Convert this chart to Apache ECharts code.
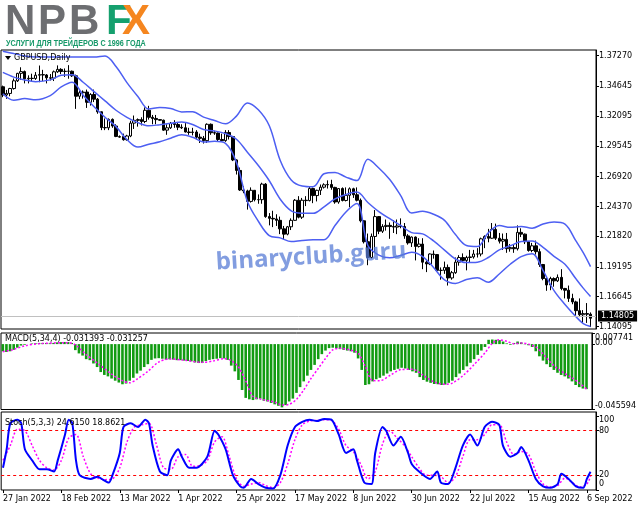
<!DOCTYPE html>
<html><head><meta charset="utf-8">
<script src="https://cdn.jsdelivr.net/npm/echarts@6/dist/echarts.min.js"></script>
<style>html,body{margin:0;padding:0;background:#fff}#c{width:639px;height:508px}</style>
</head><body><div id="c"></div>
<script>
const dates = ["27 Jan 2022","28 Jan 2022","31 Jan 2022",
"1 Feb 2022","2 Feb 2022","3 Feb 2022","4 Feb 2022","7 Feb 2022","8 Feb 2022","9 Feb 2022","10 Feb 2022","11 Feb 2022","14 Feb 2022","15 Feb 2022","16 Feb 2022","17 Feb 2022","18 Feb 2022","21 Feb 2022","22 Feb 2022","23 Feb 2022","24 Feb 2022","25 Feb 2022","28 Feb 2022",
"1 Mar 2022","2 Mar 2022","3 Mar 2022","4 Mar 2022","7 Mar 2022","8 Mar 2022","9 Mar 2022","10 Mar 2022","11 Mar 2022","13 Mar 2022","14 Mar 2022","15 Mar 2022","16 Mar 2022","17 Mar 2022","18 Mar 2022","21 Mar 2022","22 Mar 2022","23 Mar 2022","24 Mar 2022","25 Mar 2022","27 Mar 2022","28 Mar 2022","29 Mar 2022","30 Mar 2022","31 Mar 2022",
"1 Apr 2022","4 Apr 2022","5 Apr 2022","6 Apr 2022","7 Apr 2022","8 Apr 2022","11 Apr 2022","12 Apr 2022","13 Apr 2022","14 Apr 2022","15 Apr 2022","18 Apr 2022","19 Apr 2022","20 Apr 2022","21 Apr 2022","22 Apr 2022","25 Apr 2022","26 Apr 2022","27 Apr 2022","28 Apr 2022","29 Apr 2022",
"2 May 2022","3 May 2022","4 May 2022","5 May 2022","6 May 2022","9 May 2022","10 May 2022","11 May 2022","12 May 2022","13 May 2022","16 May 2022","17 May 2022","18 May 2022","19 May 2022","20 May 2022","23 May 2022","24 May 2022","25 May 2022","26 May 2022","27 May 2022","30 May 2022","31 May 2022",
"1 Jun 2022","2 Jun 2022","3 Jun 2022","6 Jun 2022","7 Jun 2022","8 Jun 2022","9 Jun 2022","10 Jun 2022","13 Jun 2022","14 Jun 2022","15 Jun 2022","16 Jun 2022","17 Jun 2022","20 Jun 2022","21 Jun 2022","22 Jun 2022","23 Jun 2022","24 Jun 2022","27 Jun 2022","28 Jun 2022","29 Jun 2022","30 Jun 2022",
"1 Jul 2022","4 Jul 2022","5 Jul 2022","6 Jul 2022","7 Jul 2022","8 Jul 2022","11 Jul 2022","12 Jul 2022","13 Jul 2022","14 Jul 2022","15 Jul 2022","18 Jul 2022","19 Jul 2022","20 Jul 2022","21 Jul 2022","22 Jul 2022","25 Jul 2022","26 Jul 2022","27 Jul 2022","28 Jul 2022","29 Jul 2022",
"1 Aug 2022","2 Aug 2022","3 Aug 2022","4 Aug 2022","5 Aug 2022","8 Aug 2022","9 Aug 2022","10 Aug 2022","11 Aug 2022","12 Aug 2022","15 Aug 2022","16 Aug 2022","17 Aug 2022","18 Aug 2022","19 Aug 2022","22 Aug 2022","23 Aug 2022","24 Aug 2022","25 Aug 2022","26 Aug 2022","29 Aug 2022","30 Aug 2022","31 Aug 2022",
"1 Sep 2022","2 Sep 2022","5 Sep 2022","6 Sep 2022","7 Sep 2022"];

const opens = [1.3461,1.3391,1.3404,1.3446,1.3512,1.3576,1.3591,1.3529,1.3534,1.3532,
1.3560,1.3565,1.3562,1.3538,1.3535,1.3589,1.3610,1.3592,1.3594,1.3594,
1.3555,1.3380,1.3410,1.3416,1.3328,1.3395,1.3355,1.3247,1.3112,1.3110,
1.3182,1.3125,1.3030,1.3035,1.3008,1.3040,1.3150,1.3174,1.3180,1.3164,
1.3260,1.3200,1.3190,1.3180,1.3175,1.3090,1.3110,1.3148,1.3138,1.3115,
1.3110,1.3074,1.3070,1.3074,1.3030,1.3020,1.3000,1.3140,1.3068,1.3065,
1.3010,1.3000,1.3070,1.3035,1.2835,1.2745,1.2578,1.2570,1.2480,1.2575,
1.2495,1.2495,1.2628,1.2350,1.2335,1.2330,1.2318,1.2245,1.2200,1.2263,
1.2318,1.2490,1.2345,1.2490,1.2487,1.2590,1.2530,1.2575,1.2602,1.2622,
1.2625,1.2600,1.2475,1.2590,1.2488,1.2532,1.2588,1.2537,1.2490,1.2314,
1.2135,1.2000,1.2180,1.2350,1.2225,1.2265,1.2275,1.2265,1.2260,1.2270,
1.2265,1.2185,1.2125,1.2175,1.2095,1.2115,1.1960,1.1945,1.2030,1.2025,
1.1890,1.1890,1.1915,1.1825,1.1870,1.1960,1.2000,1.1975,1.2000,1.2005,
1.2030,1.2030,1.2160,1.2180,1.2165,1.2240,1.2165,1.2140,1.2155,1.2075,
1.2085,1.2075,1.2215,1.2200,1.2135,1.2060,1.2100,1.2050,1.1940,1.1820,
1.1765,1.1820,1.1800,1.1830,1.1735,1.1720,1.1650,1.1620,1.1545,1.1510,
1.1520,1.1515];
const highs = [1.3471,1.3434,1.3452,1.3532,1.3580,1.3628,1.3600,1.3559,1.3573,1.3587,
1.3643,1.3606,1.3570,1.3570,1.3600,1.3644,1.3620,1.3618,1.3646,1.3600,
1.3565,1.3430,1.3430,1.3437,1.3406,1.3437,1.3365,1.3250,1.3190,1.3190,
1.3190,1.3140,1.3045,1.3060,1.3050,1.3170,1.3215,1.3190,1.3200,1.3285,
1.3298,1.3220,1.3220,1.3185,1.3180,1.3140,1.3160,1.3175,1.3160,1.3140,
1.3150,1.3110,1.3110,1.3090,1.3060,1.3040,1.3148,1.3147,1.3085,1.3070,
1.3060,1.3090,1.3090,1.3040,1.2840,1.2770,1.2610,1.2580,1.2600,1.2577,
1.2540,1.2640,1.2637,1.2380,1.2400,1.2370,1.2350,1.2270,1.2270,1.2335,
1.2500,1.2525,1.2510,1.2525,1.2610,1.2598,1.2580,1.2625,1.2635,1.2660,
1.2665,1.2605,1.2590,1.2600,1.2600,1.2600,1.2597,1.2600,1.2505,1.2320,
1.2205,1.2205,1.2406,1.2355,1.2285,1.2325,1.2300,1.2320,1.2325,1.2335,
1.2295,1.2200,1.2180,1.2180,1.2165,1.2165,1.1975,1.2035,1.2060,1.2030,
1.1915,1.1965,1.1940,1.1885,1.2000,1.2020,1.2035,1.2015,1.2065,1.2065,
1.2080,1.2170,1.2190,1.2245,1.2295,1.2290,1.2210,1.2205,1.2210,1.2115,
1.2110,1.2275,1.2250,1.2205,1.2140,1.2125,1.2145,1.2075,1.1945,1.1830,
1.1835,1.1830,1.1855,1.1900,1.1740,1.1760,1.1690,1.1630,1.1650,1.1550,
1.1610,1.1530];
const lows = [1.3372,1.3358,1.3380,1.3437,1.3502,1.3520,1.3490,1.3490,1.3510,1.3520,
1.3500,1.3510,1.3490,1.3515,1.3510,1.3580,1.3570,1.3545,1.3530,1.3545,
1.3272,1.3355,1.3360,1.3280,1.3300,1.3330,1.3230,1.3090,1.3090,1.3090,
1.3110,1.3030,1.3025,1.3000,1.3000,1.3030,1.3100,1.3120,1.3130,1.3150,
1.3180,1.3140,1.3140,1.3170,1.3085,1.3050,1.3100,1.3110,1.3090,1.3100,
1.3070,1.3050,1.3045,1.3010,1.2980,1.2975,1.2980,1.3050,1.3050,1.2990,
1.2990,1.2990,1.3010,1.2825,1.2710,1.2570,1.2550,1.2410,1.2470,1.2480,
1.2460,1.2460,1.2340,1.2275,1.2260,1.2270,1.2200,1.2155,1.2190,1.2235,
1.2315,1.2335,1.2330,1.2440,1.2480,1.2465,1.2480,1.2535,1.2590,1.2590,
1.2580,1.2460,1.2460,1.2480,1.2480,1.2430,1.2510,1.2480,1.2300,1.2120,
1.1934,1.1990,1.2040,1.2200,1.2210,1.2230,1.2160,1.2210,1.2200,1.2250,
1.2160,1.2110,1.2090,1.1975,1.2085,1.1900,1.1875,1.1935,1.1990,1.1880,
1.1810,1.1860,1.1760,1.1810,1.1860,1.1930,1.1960,1.1890,1.1960,1.1990,
1.2000,1.2010,1.2080,1.2130,1.2160,1.2150,1.2120,1.2065,1.2040,1.2050,
1.2040,1.2060,1.2175,1.2115,1.2050,1.2045,1.2025,1.1920,1.1805,1.1715,
1.1720,1.1750,1.1790,1.1720,1.1650,1.1620,1.1600,1.1500,1.1490,1.1440,
1.1440,1.1405];
const closes = [1.3391,1.3404,1.3446,1.3512,1.3576,1.3591,1.3529,1.3534,1.3532,1.3560,
1.3565,1.3562,1.3538,1.3535,1.3589,1.3610,1.3592,1.3594,1.3594,1.3555,
1.3380,1.3410,1.3416,1.3328,1.3395,1.3355,1.3247,1.3112,1.3110,1.3182,
1.3125,1.3036,1.3035,1.3008,1.3040,1.3150,1.3174,1.3180,1.3164,1.3260,
1.3200,1.3190,1.3180,1.3175,1.3090,1.3110,1.3148,1.3138,1.3115,1.3110,
1.3074,1.3070,1.3074,1.3030,1.3020,1.3000,1.3140,1.3068,1.3065,1.3010,
1.3000,1.3070,1.3035,1.2835,1.2745,1.2578,1.2570,1.2480,1.2575,1.2495,
1.2495,1.2628,1.2350,1.2335,1.2330,1.2318,1.2245,1.2200,1.2263,1.2318,
1.2490,1.2345,1.2490,1.2487,1.2590,1.2530,1.2575,1.2602,1.2622,1.2625,
1.2600,1.2475,1.2590,1.2488,1.2532,1.2588,1.2537,1.2490,1.2314,1.2135,
1.2000,1.2180,1.2350,1.2225,1.2265,1.2275,1.2265,1.2260,1.2270,1.2265,
1.2185,1.2125,1.2175,1.2095,1.2115,1.1960,1.1945,1.2030,1.2025,1.1890,
1.1890,1.1915,1.1825,1.1870,1.1960,1.2000,1.1975,1.2000,1.2005,1.2030,
1.2030,1.2160,1.2180,1.2165,1.2240,1.2165,1.2140,1.2155,1.2075,1.2085,
1.2075,1.2215,1.2200,1.2135,1.2060,1.2100,1.2050,1.1940,1.1820,1.1765,
1.1820,1.1800,1.1830,1.1735,1.1720,1.1650,1.1620,1.1545,1.1510,1.1520,
1.1515,1.14805];

const bandIdx = [0,3,6,9,13,16,19,22,25,28,31,34,37,40,43,46,49,52,55,58,61,64,67,70,73,76,79,82,85,88,91,94,97,100,103,106,109,112,115,118,121,124,127,130,133,136,139,142,145,148,151,154,157,159,161];
const bandUpper = [1.3766,1.3745,1.3725,1.3716,1.3716,1.3716,1.3716,1.3716,1.3716,1.3725,1.3635,1.3497,1.3378,1.3270,1.3284,1.3275,1.3246,1.3247,1.3201,1.3172,1.3144,1.3210,1.3323,1.3264,1.3127,1.2830,1.2664,1.2612,1.2605,1.2717,1.2728,1.2688,1.2658,1.2840,1.2766,1.2667,1.2530,1.2381,1.2396,1.2370,1.2318,1.2196,1.2103,1.2094,1.2211,1.2273,1.2258,1.2266,1.2251,1.2287,1.2303,1.2286,1.2142,1.2041,1.1922];
const bandMid = [1.3584,1.3544,1.3519,1.3505,1.3520,1.3559,1.3564,1.3500,1.3420,1.3340,1.3260,1.3200,1.3154,1.3127,1.3137,1.3148,1.3160,1.3138,1.3095,1.3083,1.3060,1.3012,1.2901,1.2787,1.2657,1.2499,1.2400,1.2379,1.2378,1.2434,1.2501,1.2539,1.2560,1.2471,1.2393,1.2332,1.2274,1.2213,1.2202,1.2142,1.2063,1.1987,1.1957,1.1960,1.2000,1.2066,1.2100,1.2137,1.2142,1.2087,1.2010,1.1942,1.1818,1.1738,1.1666];
const bandLower = [1.3402,1.3346,1.3360,1.3350,1.3385,1.3460,1.3500,1.3389,1.3290,1.3200,1.3120,1.3010,1.2945,1.2970,1.2990,1.3021,1.3050,1.3029,1.2989,1.2994,1.2976,1.2814,1.2479,1.2310,1.2187,1.2168,1.2136,1.2146,1.2151,1.2151,1.2274,1.2390,1.2462,1.2102,1.2020,1.1997,1.2018,1.2045,1.2008,1.1914,1.1808,1.1778,1.1811,1.1826,1.1789,1.1859,1.1942,1.2008,1.2033,1.1887,1.1717,1.1598,1.1494,1.1435,1.1410];

const macdMain = [-0.0050,-0.0055,-0.0050,-0.0040,-0.0025,-0.0010,-0.0005,0.0000,0.0004,0.0006,
0.0008,0.0008,0.0007,0.0006,0.0008,0.0012,0.0014,0.0015,0.0014,0.0008,
-0.0042,-0.0065,-0.0080,-0.0105,-0.0112,-0.0135,-0.0160,-0.0195,-0.0215,-0.0225,
-0.0240,-0.0255,-0.0268,-0.0280,-0.0275,-0.0255,-0.0235,-0.0205,-0.0185,-0.0160,
-0.0140,-0.0110,-0.0100,-0.0098,-0.0102,-0.0108,-0.0106,-0.0108,-0.0112,-0.0112,
-0.0115,-0.0118,-0.0120,-0.0128,-0.0132,-0.0132,-0.0118,-0.0110,-0.0105,-0.0102,
-0.0098,-0.0100,-0.0110,-0.0150,-0.0190,-0.0250,-0.0320,-0.0375,-0.0385,-0.0390,
-0.0385,-0.0380,-0.0395,-0.0400,-0.0410,-0.0420,-0.0430,-0.0441,-0.0425,-0.0400,
-0.0380,-0.0340,-0.0300,-0.0260,-0.0220,-0.0180,-0.0145,-0.0105,-0.0070,-0.0045,
-0.0028,-0.0025,-0.0028,-0.0035,-0.0040,-0.0045,-0.0050,-0.0060,-0.0100,-0.0180,
-0.0285,-0.0280,-0.0260,-0.0245,-0.0235,-0.0220,-0.0205,-0.0190,-0.0180,-0.0172,
-0.0165,-0.0170,-0.0180,-0.0190,-0.0200,-0.0230,-0.0250,-0.0262,-0.0270,-0.0278,
-0.0280,-0.0285,-0.0282,-0.0270,-0.0255,-0.0230,-0.0205,-0.0180,-0.0155,-0.0130,
-0.0105,-0.0075,-0.0045,-0.0020,0.0030,0.0032,0.0030,0.0028,0.0018,0.0005,
-0.0005,0.0008,0.0018,0.0012,-0.0002,-0.0008,-0.0020,-0.0050,-0.0085,-0.0115,
-0.0140,-0.0160,-0.0180,-0.0200,-0.0215,-0.0225,-0.0240,-0.0260,-0.0285,-0.0300,
-0.0310,-0.031393];
const sigIdx = [0,3,6,10,18,20,23,27,30,33,35,37,40,43,46,50,55,58,61,63,65,67,69,72,75,77,79,81,83,85,87,89,91,93,96,98,100,102,104,107,110,113,116,119,122,124,127,130,133,135,137,139,141,143,145,147,149,151,153,155,157,159,161];
const sigVal = [-0.0053,-0.0037,-0.0012,0.0003,0.0010,-0.0005,-0.0073,-0.0150,-0.0210,-0.0255,-0.0270,-0.0245,-0.0190,-0.0125,-0.0103,-0.0112,-0.0127,-0.0118,-0.0102,-0.0115,-0.0160,-0.0255,-0.0365,-0.0388,-0.0405,-0.0425,-0.0420,-0.0385,-0.0320,-0.0240,-0.0170,-0.0100,-0.0040,-0.0029,-0.0043,-0.0063,-0.0156,-0.0254,-0.0255,-0.0215,-0.0177,-0.0176,-0.0218,-0.0265,-0.0280,-0.0272,-0.0218,-0.0143,-0.0061,0.0005,0.0030,0.0020,0.0002,0.0008,0.0000,-0.0020,-0.0068,-0.0125,-0.0170,-0.0205,-0.0235,-0.0271,-0.031257];

const kIdx = [0,1,2,4,5,6,8,10,12,14,15,17,18,19,20,21,24,26,27,29,30,32,33,35,37,39,40,41,43,45,46,48,49,51,53,56,58,59,61,63,65,66,68,70,72,74,76,78,80,82,84,86,88,90,92,94,96,97,99,101,102,104,105,107,109,111,112,114,117,119,120,122,124,126,128,130,132,134,136,137,139,141,142,144,146,148,150,152,153,155,157,159,160,161];
const kVal = [30,55,90,95,90,55,40,28,28,25,40,75,95,90,40,20,15,18,15,10,20,50,85,90,85,95,90,60,25,20,40,55,45,30,30,45,80,75,55,20,5,3,15,8,3,2,20,60,85,92,95,93,96,95,75,50,55,40,10,8,50,85,80,60,72,50,35,25,15,25,10,8,30,60,75,60,85,92,88,60,45,50,58,40,15,5,3,8,22,15,5,3,15,24.615];
const dIdx = [0,2,4,6,8,10,12,14,16,18,20,22,24,26,28,30,32,34,36,38,40,42,44,46,48,50,52,54,56,58,60,62,64,66,68,70,72,74,76,78,80,82,84,86,88,90,92,94,96,98,100,102,104,106,108,110,112,114,116,118,120,122,124,126,128,130,132,134,136,138,140,142,144,146,148,150,152,154,156,158,160,161];
const dVal = [40,60,82,80,60,40,30,27,40,70,75,45,22,16,14,15,30,65,85,88,90,62,30,28,45,48,32,33,40,65,72,45,15,5,8,10,6,3,10,35,68,88,93,94,95,94,82,60,52,35,15,25,62,80,70,60,45,30,20,20,18,10,18,45,68,68,75,88,88,65,48,52,48,25,8,4,6,16,10,4,8,18.8621];

const priceTicks = [1.37270,1.34645,1.32095,1.29545,1.26920,1.24370,1.21820,1.19195,1.16645,1.14095];
const macdTicks = [0.007741,-0.045594];
const macdZeroTick = [0];
const stochTicks = [0,20,80,100];
const stochLevels = [20,80];

const FONT = 'DejaVu Sans';
const cats = dates.concat(['']);
const candle = dates.map((d,i)=>[opens[i],closes[i],lows[i],highs[i]]);
const pairs = (xs, ys) => xs.map((x,k)=>[x, ys[k]]);
const lastClose = closes[closes.length-1];
const lblStyle = {fontSize:8, fontFamily:FONT, color:'#000'};
const gridBase = {left:1, width:595, show:true, borderColor:'#000', borderWidth:1, backgroundColor:'#fff'};
const hiddenX = (g)=>({type:'category', gridIndex:g, data:cats, boundaryGap:true, show:false});
const bandLine = (data)=>({type:'line', xAxisIndex:0, yAxisIndex:0, data, smooth:0.35, symbol:'none', silent:true, z:4, lineStyle:{color:'#4d5ff2', width:1.5}});
const yLabelBase = {margin:3, showMinLabel:true, showMaxLabel:true, hideOverlap:false};

const chart = echarts.init(document.getElementById('c'));
chart.setOption({
  animation:false,
  backgroundColor:'#fff',
  grid:[
    Object.assign({top:50, height:279}, gridBase),
    Object.assign({top:333, height:76.5}, gridBase),
    Object.assign({top:412, height:78}, gridBase)
  ],
  xAxis:[hiddenX(0), hiddenX(1), {
    type:'category', gridIndex:2, data:cats, boundaryGap:true,
    axisLine:{show:false},
    axisTick:{show:true, interval:15, alignWithLabel:true, length:3, lineStyle:{color:'#000'}},
    axisLabel:Object.assign({interval:15, align:'left', margin:5}, lblStyle),
    splitLine:{show:false}
  }],
  yAxis:[
    {type:'value', gridIndex:0, position:'right', min:1.13881, max:1.37758, splitLine:{show:false},
     axisLine:{show:true, lineStyle:{color:'#000'}},
     axisTick:{show:true, customValues:priceTicks, length:3, lineStyle:{color:'#000'}},
     axisLabel:Object.assign({customValues:priceTicks, formatter:v=>v.toFixed(5)}, yLabelBase, lblStyle)},
    {type:'value', gridIndex:1, position:'right', min:macdTicks[1], max:macdTicks[0], splitLine:{show:false},
     axisLine:{show:true, lineStyle:{color:'#000'}},
     axisTick:{show:true, customValues:macdTicks, length:3, lineStyle:{color:'#000'}},
     axisLabel:Object.assign({customValues:macdTicks,
       formatter:v=> v>0 ? '{t|'+v.toFixed(6)+'}' : '{b|'+v.toFixed(6)+'}',
       rich:{t:Object.assign({padding:[10,0,0,0]}, lblStyle), b:Object.assign({padding:[0,0,7,0]}, lblStyle)}}, yLabelBase, lblStyle)},
    {type:'value', gridIndex:2, position:'right', min:0, max:105.3, splitLine:{show:false},
     axisLine:{show:true, lineStyle:{color:'#000'}},
     axisTick:{show:true, customValues:stochTicks, length:3, lineStyle:{color:'#000'}},
     axisLabel:Object.assign({customValues:stochTicks,
       formatter:v=> v===100 ? '{t|100}' : (v===0 ? '{b|0}' : String(v)),
       rich:{t:Object.assign({padding:[8,0,0,0]}, lblStyle), b:Object.assign({padding:[0,0,12,0]}, lblStyle)}}, yLabelBase, lblStyle)},
    {type:'value', gridIndex:1, position:'right', offset:0, min:macdTicks[1], max:macdTicks[0], splitLine:{show:false},
     axisLine:{show:false},
     axisTick:{show:true, customValues:macdZeroTick, length:3, lineStyle:{color:'#000'}},
     axisLabel:Object.assign({customValues:macdZeroTick, formatter:()=>'{z|0.00}',
       rich:{z:Object.assign({padding:[0,0,2,0]}, lblStyle)}}, yLabelBase, lblStyle)}
  ],
  series:[
    {type:'candlestick', xAxisIndex:0, yAxisIndex:0, data:candle, barWidth:3, z:3,
     itemStyle:{color:'#fff', color0:'#000', borderColor:'#000', borderColor0:'#000', borderWidth:1},
     markLine:{silent:true, symbol:['none','none'], animation:false, data:[{yAxis:lastClose}],
       lineStyle:{color:'#c0c0c0', width:1, type:'solid'},
       label:Object.assign({show:true, position:'end', formatter:lastClose.toFixed(5), backgroundColor:'#000', padding:[2,3,1,3], distance:2}, lblStyle, {color:'#fff'})}},
    bandLine(pairs(bandIdx, bandUpper)),
    bandLine(pairs(bandIdx, bandMid)),
    bandLine(pairs(bandIdx, bandLower)),
    {type:'bar', xAxisIndex:1, yAxisIndex:1, data:macdMain, barWidth:2.6, silent:true, itemStyle:{color:'#119b11'}},
    {type:'line', xAxisIndex:1, yAxisIndex:1, data:pairs(sigIdx, sigVal), smooth:0.3, symbol:'none', silent:true, z:5,
     lineStyle:{color:'#ff00ff', width:1.5, type:[2,2]}},
    {type:'line', xAxisIndex:2, yAxisIndex:2, data:pairs(kIdx, kVal), smooth:0.25, symbol:'none', silent:true, z:5,
     lineStyle:{color:'#0000ff', width:2},
     markLine:{silent:true, symbol:['none','none'], animation:false, label:{show:false},
       data:stochLevels.map(v=>({yAxis:v})), lineStyle:{color:'#ff0000', width:1, type:[3,3]}}},
    {type:'line', xAxisIndex:2, yAxisIndex:2, data:pairs(dIdx, dVal), smooth:0.3, symbol:'none', silent:true, z:4,
     lineStyle:{color:'#ff00ff', width:1.5, type:[2,2]}}
  ],
  graphic:[
    {type:'text', x:5, y:1, style:{text:'N', font:'bold 42px "Liberation Sans"', fill:'#6d6e71'}},
    {type:'text', x:38, y:1, style:{text:'P', font:'bold 42px "Liberation Sans"', fill:'#6d6e71'}},
    {type:'text', x:69, y:1, style:{text:'B', font:'bold 42px "Liberation Sans"', fill:'#6d6e71'}},
    {type:'text', x:106, y:1, style:{text:'F', font:'bold 42px "Liberation Sans"', fill:'#15a06e'}},
    {type:'text', x:122, y:1, style:{text:'X', font:'bold 42px "Liberation Sans"', fill:'#f5861f'}},
    {type:'text', x:6, y:44, scaleX:0.85, style:{text:'УСЛУГИ ДЛЯ ТРЕЙДЕРОВ С 1996 ГОДА', font:'bold 8.5px "Liberation Sans"', fill:'#17996a', verticalAlign:'middle', textVerticalAlign:'middle'}},
    {type:'polygon', shape:{points:[[5,56],[11,56],[8,60]]}, style:{fill:'#000'}, z:10},
    {type:'text', x:14, y:58, z:10, style:{text:'GBPUSD,Daily', font:'8px "DejaVu Sans"', fill:'#000', verticalAlign:'middle', textVerticalAlign:'middle'}},
    {type:'text', x:5, y:339, z:10, style:{text:'MACD(5,34,4) -0.031393 -0.031257', font:'8px "DejaVu Sans"', fill:'#000', verticalAlign:'middle', textVerticalAlign:'middle'}},
    {type:'text', x:5, y:423, z:10, style:{text:'Stoch(5,3,3) 24.6150 18.8621', font:'8px "DejaVu Sans"', fill:'#000', verticalAlign:'middle', textVerticalAlign:'middle'}},
    {type:'text', x:311, y:257, rotation:0.06, z:20, style:{text:'binaryclub.guru', font:'bold 24px "Open Sans"', fill:'rgba(88,124,214,0.75)', align:'center', verticalAlign:'middle', textAlign:'center', textVerticalAlign:'middle'}}
  ]
});
</script></body></html>
